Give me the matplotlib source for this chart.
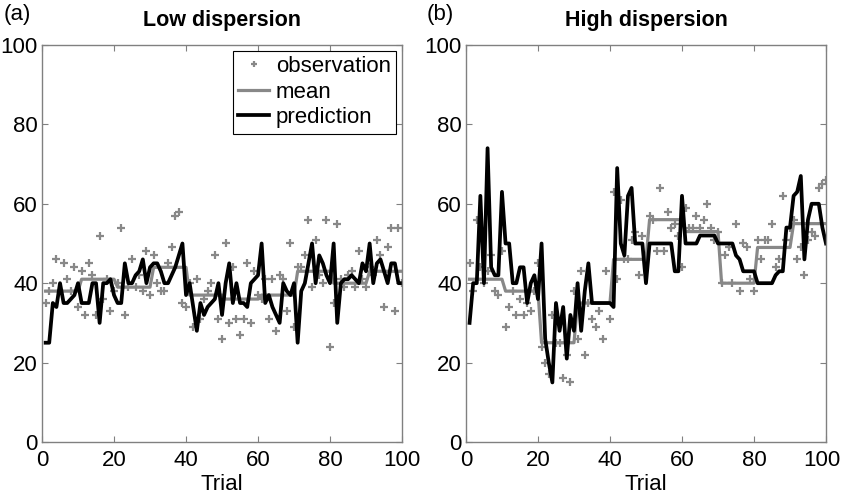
#!/usr/bin/env python
# -*- coding: utf-8 -*-

import numpy as np
import matplotlib
matplotlib.use('Agg')
import matplotlib.pyplot as plt
import matplotlib.transforms as mtransforms

plt.rcParams['font.family'] = ['Liberation Sans', 'DejaVu Sans']

TRIALS = np.arange(1, 101)
BLOCK_LEN = 10

# (a) low dispersion
low_mean_blocks = [38, 41, 39, 44, 37, 36, 37, 43, 40, 43]
low_obs = [35, 38, 40, 46, 38, 45, 41, 38, 44, 34,
           43, 32, 45, 42, 32, 52, 36, 41, 33, 38,
           40, 54, 32, 39, 46, 39, 42, 38, 48, 37,
           47, 40, 38, 38, 45, 49, 57, 58, 35, 34,
           40, 29, 41, 31, 36, 38, 40, 47, 31, 26,
           50, 30, 44, 31, 27, 31, 45, 30, 43, 37,
           36, 41, 31, 41, 28, 42, 41, 33, 50, 29,
           44, 44, 47, 56, 39, 51, 42, 40, 56, 24,
           35, 55, 41, 39, 42, 43, 39, 48, 41, 39,
           44, 42, 51, 47, 34, 49, 54, 33, 54, 40]
low_pred = [25, 25, 35, 34, 40, 35, 35, 36, 37, 40,
            35, 35, 35, 40, 40, 30, 40, 40, 41, 37,
            35, 35, 45, 40, 40, 42, 43, 46, 40, 44,
            45, 45, 43, 40, 40, 42, 44, 47, 50, 37,
            40, 34, 28, 35, 32, 34, 35, 36, 40, 32,
            40, 45, 35, 40, 35, 35, 34, 40, 41, 42,
            50, 35, 37, 34, 32, 30, 40, 38, 37, 40,
            25, 38, 40, 45, 50, 40, 47, 45, 42, 40,
            50, 30, 40, 41, 41, 42, 41, 40, 45, 43,
            50, 40, 45, 46, 43, 40, 45, 45, 40, 40]

# (b) high dispersion
high_mean_blocks = [41, 38, 25, 35, 46, 56, 53, 40, 49, 55]
high_obs = [45, 38, 56, 44, 40, 43, 47, 38, 37, 48,
            29, 34, 38, 32, 36, 32, 35, 33, 38, 45,
            24, 20, 17, 32, 25, 25, 16, 22, 15, 38,
            26, 43, 22, 35, 31, 29, 33, 26, 43, 31,
            63, 41, 61, 46, 46, 51, 53, 42, 52, 46,
            57, 56, 48, 64, 48, 58, 54, 55, 52, 44,
            59, 54, 54, 57, 54, 56, 60, 54, 51, 53,
            40, 47, 49, 40, 55, 38, 50, 49, 41, 38,
            51, 46, 51, 51, 55, 44, 46, 62, 51, 54,
            56, 46, 49, 42, 51, 53, 52, 64, 65, 66]
high_pred = [30, 40, 40, 62, 40, 74, 44, 42, 42, 63,
             50, 50, 40, 40, 44, 44, 35, 40, 42, 36,
             50, 26, 20, 15, 35, 28, 34, 21, 32, 28,
             40, 28, 38, 45, 35, 35, 35, 35, 35, 35,
             34, 69, 50, 47, 62, 64, 50, 50, 50, 40,
             50, 50, 50, 50, 50, 50, 50, 43, 43, 62,
             50, 50, 50, 50, 52, 52, 52, 52, 52, 50,
             50, 50, 50, 50, 47, 46, 43, 43, 43, 43,
             40, 40, 40, 40, 40, 42, 43, 43, 54, 54,
             62, 63, 67, 46, 56, 60, 60, 60, 54, 50]

GRAY = '#888888'
AXIS_GRAY = '#808080'
FS = 16


def _panel(ax, obs, mean_blocks, pred, title, tag, legend=False):
    mean = np.repeat(mean_blocks, BLOCK_LEN)
    ax.plot(TRIALS, obs, '+', color=GRAY, ms=5.5, mew=1.6,
            label='observation')
    ax.plot(TRIALS, mean, '-', color=GRAY, lw=2.3, label='mean')
    ax.plot(TRIALS, pred, '-', color='black', lw=2.7, label='prediction')
    ax.set_xlim(0, 100)
    ax.set_ylim(0, 100)
    ax.set_xticks(np.arange(0, 101, 20))
    ax.set_yticks(np.arange(0, 101, 20))
    ax.tick_params(direction='in', top=True, right=True, length=4,
                   color=AXIS_GRAY, labelsize=FS)
    ax.tick_params(axis='x', pad=6)
    ax.tick_params(axis='y', pad=3)
    for s in ax.spines.values():
        s.set_color(AXIS_GRAY)
        s.set_linewidth(1.0)
    ax.set_xlabel('Trial', fontsize=FS, labelpad=2)
    ax.set_title(title, fontsize=15.5, fontweight='bold', pad=14)
    ax.text(-0.108, 1.05, tag, transform=ax.transAxes, fontsize=FS,
            ha='left', va='bottom')
    if legend:
        leg = ax.legend(loc='upper right', fontsize=FS, handlelength=1.4,
                        handletextpad=0.3, borderpad=0.25, labelspacing=0.2,
                        borderaxespad=0.25, fancybox=False, framealpha=1,
                        edgecolor='black', markerscale=0.7)
        leg.get_frame().set_linewidth(0.8)


def _plot():
    fig = plt.figure(figsize=(8.42, 4.97), dpi=100)
    ax1 = fig.add_axes([0.0499, 0.1107, 0.4276, 0.7988])
    ax2 = fig.add_axes([0.5534, 0.1107, 0.4276, 0.7988])
    _panel(ax1, low_obs, low_mean_blocks, low_pred, 'Low dispersion', '(a)',
           legend=True)
    _panel(ax2, high_obs, high_mean_blocks, high_pred, 'High dispersion',
           '(b)')
    # keep the last "100" inside the figure edge
    fig.canvas.draw()
    shift = mtransforms.ScaledTranslation(-4 / 100.0, 0, fig.dpi_scale_trans)
    last = ax2.get_xticklabels()[-1]
    last.set_transform(last.get_transform() + shift)
    fig.savefig('out.png', dpi=100)


if __name__ == '__main__':
    _plot()
